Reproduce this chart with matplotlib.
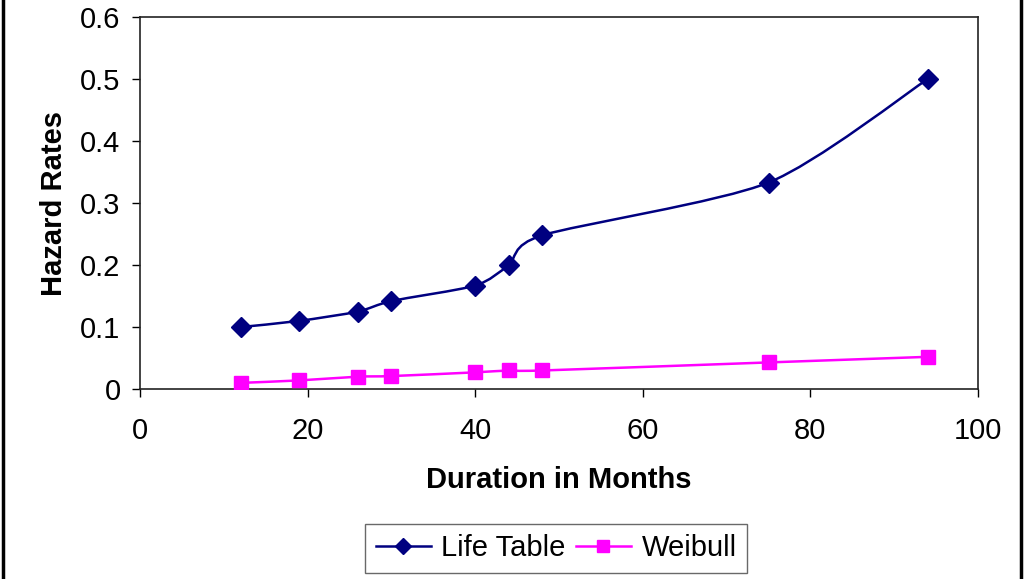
"""
Hazard rates by duration: life table vs. Weibull fit.
Excel-style smoothed lines with markers, saved as out.png.
"""

import matplotlib.pyplot as plt
from matplotlib.lines import Line2D
from matplotlib.patches import PathPatch, Rectangle
from matplotlib.path import Path

months = [12, 19, 26, 30, 40, 44, 48, 75, 94]
life_table = [0.100, 0.110, 0.125, 0.142, 0.167, 0.200, 0.248, 0.333, 0.500]
weibull = [0.010, 0.014, 0.020, 0.021, 0.027, 0.030, 0.030, 0.043, 0.052]

NAVY = "#000080"
MAGENTA = "#FF00FF"

plt.rcParams["font.family"] = ["Liberation Sans", "DejaVu Sans"]


def smooth_path(xs, ys, k=8.0):
    # Catmull-Rom style bezier, like Excel's "smoothed line"
    pts = list(zip(xs, ys))
    n = len(pts)
    verts = [pts[0]]
    codes = [Path.MOVETO]
    for i in range(n - 1):
        p0 = pts[i - 1] if i > 0 else pts[i]
        p1 = pts[i]
        p2 = pts[i + 1]
        p3 = pts[i + 2] if i + 2 < n else pts[i + 1]
        c1 = (p1[0] + (p2[0] - p0[0]) / k, p1[1] + (p2[1] - p0[1]) / k)
        c2 = (p2[0] - (p3[0] - p1[0]) / k, p2[1] - (p3[1] - p1[1]) / k)
        verts += [c1, c2, p2]
        codes += [Path.CURVE4] * 3
    return Path(verts, codes)


fig = plt.figure(figsize=(10.24, 5.79), dpi=100)
ax = fig.add_axes([0.1367, 0.328, 0.8184, 0.6426])

series = [
    (life_table, NAVY, "D", 10, "Life Table"),
    (weibull, MAGENTA, "s", 10, "Weibull"),
]
handles = []
for values, color, marker, msize, label in series:
    patch = PathPatch(smooth_path(months, values), facecolor="none",
                      edgecolor=color, lw=1.8, zorder=2)
    ax.add_patch(patch)
    ax.plot(months, values, linestyle="none", marker=marker, ms=msize,
            color=color, zorder=3)
    handles.append(Line2D([], [], color=color, lw=1.8, marker=marker,
                          ms=msize - 2, label=label))

ax.set_xlim(0, 100)
ax.set_ylim(0, 0.6)
ax.set_xticks(range(0, 101, 20))
ax.set_yticks([0, 0.1, 0.2, 0.3, 0.4, 0.5, 0.6])
ax.set_yticklabels(["0", "0.1", "0.2", "0.3", "0.4", "0.5", "0.6"])
ax.tick_params(direction="out", length=6, width=1, labelsize=21)
ax.tick_params(axis="x", pad=14)
ax.tick_params(axis="y", pad=8)
for side in ["top", "right", "left", "bottom"]:
    ax.spines[side].set_linewidth(1.2)
    ax.spines[side].set_color("#222222")

ax.set_xlabel("Duration in Months", fontsize=21, fontweight="bold", labelpad=15)
ax.set_ylabel("Hazard Rates", fontsize=21, fontweight="bold", labelpad=9)

fig.legend(handles=handles, loc="center", bbox_to_anchor=(0.543, 0.053),
           ncol=2, fontsize=21, frameon=True, fancybox=False,
           edgecolor="#444444", handlelength=1.9, handletextpad=0.35,
           columnspacing=0.35, borderpad=0.35)

# outer chart border (left and right edges visible in the original)
fig.add_artist(Rectangle((0.003, -0.01), 0.994, 1.03, transform=fig.transFigure,
                         facecolor="none", edgecolor="black", lw=2.5))

fig.savefig("out.png", dpi=100)
